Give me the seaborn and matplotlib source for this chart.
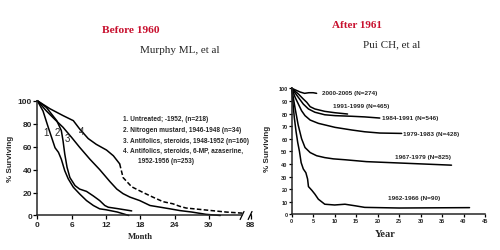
import numpy as np
import pandas as pd
import matplotlib
matplotlib.use("Agg")
import matplotlib.pyplot as plt
import seaborn as sns

# ---- left panel: Murphy ML, months ----
c1_month = [0, 1.0, 1.9, 2.7, 3.1, 3.7, 4.2, 4.8, 5.4, 6.3, 7.4, 8.6, 9.8, 10.9, 12, 14, 16]
c1_surv = [100, 91, 77, 65, 59, 55, 49, 39, 32, 24.6, 18.8, 13, 8.7, 5.8, 5, 3, 0]
c2_month = [0, 1.6, 3.4, 4.2, 4.5, 4.8, 5.2, 5.7, 6.6, 7.4, 8.6, 9.8, 10.9, 11.8, 12.4, 14, 16.5]
c2_surv = [100, 94, 82.6, 74, 65, 53.6, 42, 33, 26, 23, 21, 17, 13, 8.7, 7.2, 6, 4]
c3_month = [0, 1.6, 3, 4.5, 6, 7.4, 9.2, 10.9, 12.7, 13.9, 15, 16.2, 17.9, 19.7, 21.4, 23.2, 24.9, 27, 29.5, 32]
c3_surv = [100, 91, 84, 76.8, 68, 59.4, 49, 40, 29.5, 23, 19, 16, 13, 8.7, 7.3, 5.8, 4.3, 3, 1, 0]
c4_month = [0, 2.2, 4.5, 6.3, 7.4, 8.9, 10.3, 12.1, 13.3, 14.4]
c4_surv = [100, 93, 87, 82.6, 75.4, 67, 62, 57, 52, 45]
c4d_month = [14.4, 15, 16.5, 18.5, 20.2, 22, 23.7, 24.9, 26, 28, 30, 33, 36]
c4d_surv = [45, 33, 25, 20, 16, 12, 10.2, 8, 6.5, 5.5, 4.5, 3, 2]

left_legend = ["1. Untreated; -1952, (n=218)",
               "2. Nitrogen mustard, 1946-1948 (n=34)",
               "3. Antifolics, steroids, 1948-1952 (n=160)",
               "4. Antifolics, steroids, 6-MP, azaserine,",
               "1952-1956 (n=253)"]
left_xticks = [0, 6, 12, 18, 24, 30, 88]

# ---- right panel: Pui CH, years ----
r2000_year = [0, 1, 2, 3, 4, 5, 5.8]
r2000_surv = [100, 98.5, 97, 96, 96.5, 96.5, 96]
r1991_year = [0, 1.55, 2.7, 3.5, 4.3, 5.4, 7.7, 10.1, 13.0]
r1991_surv = [100, 95.5, 91.5, 88.9, 85.4, 83.6, 81.7, 80.6, 79.6]
r1984_year = [0, 1.55, 2.7, 3.9, 5.4, 7.7, 10.1, 14, 17, 20.5]
r1984_surv = [100, 92.8, 87.5, 83.6, 81, 79, 78.3, 77.8, 77.3, 76.4]
r1979_year = [0, 0.8, 1.55, 2.3, 3.1, 4.3, 6.2, 10.1, 14, 17, 20.5, 25.6]
r1979_surv = [100, 92.8, 87.5, 82.2, 78.3, 74.8, 72.2, 69, 66.9, 65.5, 64.5, 64.2]
r1967_year = [0, 0.4, 0.8, 1.5, 2.3, 3.1, 4.3, 5.8, 7.7, 9.7, 12.4, 17.4, 25.2, 37.2]
r1967_surv = [100, 92, 84, 71, 60, 53, 49, 46.5, 45, 44, 43.3, 41.8, 40.7, 39]
r1962_year = [0, 0.3, 0.6, 1.0, 1.4, 1.8, 2.2, 2.7, 3.3, 3.7, 3.9, 4.7, 5.4, 6.2, 7.7,
              10, 12.4, 14.7, 17, 25, 41.4]
r1962_surv = [100, 88, 77, 66, 57, 50, 41, 36, 33, 28, 22, 19, 16, 12, 8,
              7.4, 8, 6.8, 5.5, 5, 5.3]
right_labels = ["2000-2005 (N=274)", "1991-1999 (N=465)", "1984-1991 (N=546)",
                "1979-1983 (N=428)", "1967-1979 (N=825)", "1962-1966 (N=90)"]
right_label_x = [7, 9.5, 21.1, 26, 24, 22.5]
right_label_y = [96.8, 86.2, 76.5, 64.3, 46, 13.5]

sns.set_style("ticks")
plt.rcParams['font.family'] = ['Liberation Sans', 'DejaVu Sans']

fig = plt.figure(figsize=(5, 2.51), dpi=100)
axL = fig.add_axes([0.0746, 0.1375, 0.429, 0.4574])
axR = fig.add_axes([0.5834, 0.1422, 0.3866, 0.502])

lw = 1.1


def fwd(x):
    x = np.asarray(x, dtype=float)
    return np.where(x <= 36, x, 36 + (x - 36) * 0.025)


def inv(p):
    p = np.asarray(p, dtype=float)
    return np.where(p <= 36, p, 36 + (p - 36) / 0.025)


axL.set_xscale('function', functions=(fwd, inv))

for xs, ys in [(c1_month, c1_surv), (c2_month, c2_surv), (c3_month, c3_surv), (c4_month, c4_surv)]:
    sns.lineplot(x=xs, y=ys, ax=axL, color='black', linewidth=lw, estimator=None,
                 sort=False, clip_on=False)
sns.lineplot(x=c4d_month, y=c4d_surv, ax=axL, color='black', linewidth=lw, estimator=None,
             sort=False, linestyle=(0, (3, 1.5)), clip_on=False)

axL.set_xlim(0, 96)
axL.set_ylim(0, 100)
axL.set_xticks(left_xticks)
axL.set_xticklabels([str(t) for t in left_xticks])
axL.set_yticks(range(0, 101, 20))
for t, x, y in [("1", 1.6, 72.6), ("2", 3.5, 72.6), ("3", 5.3, 67.5), ("4", 7.8, 73.6)]:
    axL.text(x, y, t, fontsize=7, ha='center', va='center')

ly = [0.841, 0.745, 0.652, 0.565, 0.477]
lx = [0.4, 0.4, 0.4, 0.4, 0.471]
for s, x, y in zip(left_legend, lx, ly):
    axL.text(x, y, s, transform=axL.transAxes, fontsize=4.7, fontweight='bold',
             ha='left', va='center')

# broken x axis
axL.spines['bottom'].set_bounds(0, 35.7)
axL.plot([80, 96], [0, 0], color='black', linewidth=lw, clip_on=False, solid_capstyle='butt')
for fx in [35.8 / 37.5, 37.2 / 37.5]:
    axL.plot([fx - 0.009, fx + 0.009], [-0.035, 0.035], transform=axL.transAxes,
             color='black', linewidth=0.9, clip_on=False)

# right panel
for xs, ys in [(r2000_year, r2000_surv), (r1991_year, r1991_surv), (r1984_year, r1984_surv),
               (r1979_year, r1979_surv), (r1967_year, r1967_surv), (r1962_year, r1962_surv)]:
    sns.lineplot(x=xs, y=ys, ax=axR, color='black', linewidth=lw, estimator=None,
                 sort=False, clip_on=False)
axR.set_xlim(0, 45)
axR.set_ylim(0, 100)
axR.set_xticks(range(0, 46, 5))
axR.set_yticks(range(0, 101, 10))
for s, x, y in zip(right_labels, right_label_x, right_label_y):
    axR.text(x, y, s, fontsize=4.6, fontweight='bold', ha='left', va='center')

for ax, fs, tl in [(axL, 6, 3.0), (axR, 4, 2.2)]:
    sns.despine(ax=ax)
    ax.spines['left'].set_linewidth(lw)
    ax.spines['bottom'].set_linewidth(lw)
    ax.tick_params(axis='both', length=tl, width=0.9, pad=0.8, labelsize=fs, color='black')
    for lab in ax.get_xticklabels() + ax.get_yticklabels():
        lab.set_fontweight('bold')

axL.set_ylabel("% Surviving", fontsize=5.8, fontweight='bold')
axL.yaxis.set_label_coords(-0.127, 0.505)
axL.set_xlabel("Month", fontsize=6.2, fontweight='bold', family='Liberation Serif')
axL.xaxis.set_label_coords(0.479, -0.179)
axL.xaxis.label.set_va('center')
axL.yaxis.label.set_va('center')

axR.set_ylabel("% Surviving", fontsize=5.8, fontweight='bold')
axR.yaxis.set_label_coords(-0.123, 0.526)
axR.set_xlabel("Year", fontsize=7.4, fontweight='bold', family='Liberation Serif')
axR.xaxis.set_label_coords(0.485, -0.156)
axR.xaxis.label.set_va('center')
axR.yaxis.label.set_va('center')

red = '#c8102e'
fig.text(0.262, 0.8765, "Before 1960", color=red, fontsize=8.2, fontweight='bold',
         family='Liberation Serif', ha='center', va='center')
fig.text(0.359, 0.797, "Murphy ML, et al", fontsize=8, family='Liberation Serif',
         ha='center', va='center')
fig.text(0.714, 0.90, "After 1961", color=red, fontsize=8, fontweight='bold',
         family='Liberation Serif', ha='center', va='center')
fig.text(0.726, 0.821, "Pui CH, et al", fontsize=8, family='Liberation Serif',
         ha='left', va='center')

fig.savefig("out.png", dpi=100)
